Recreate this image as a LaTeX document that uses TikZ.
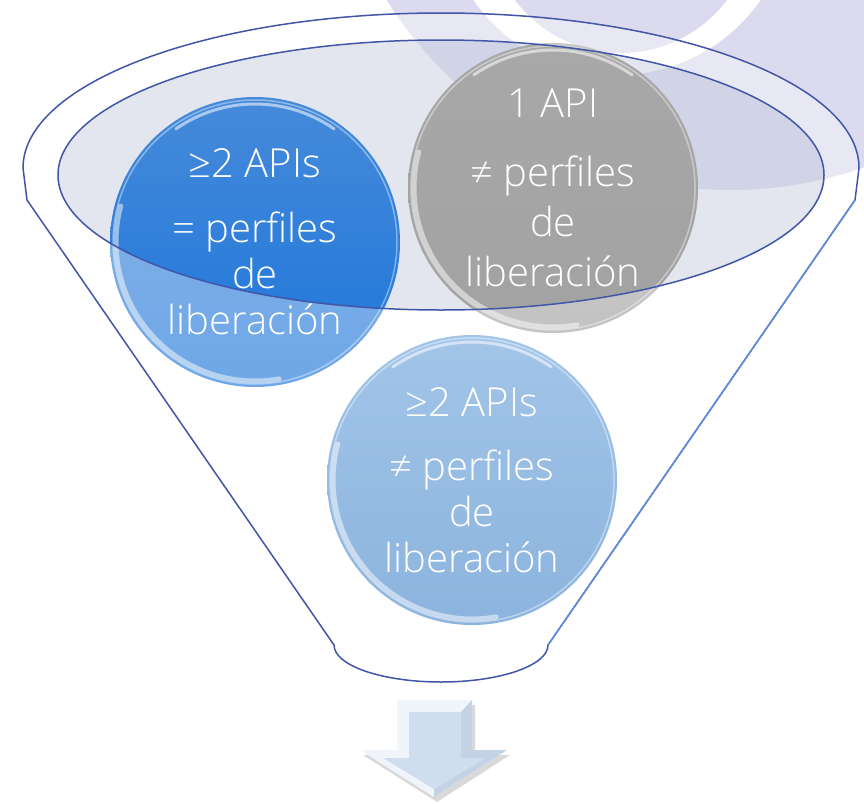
\documentclass[tikz,border=0pt]{standalone}
\usepackage{fontspec}
\setmainfont{Open Sans Light}
\definecolor{lav}{RGB}{220,218,238}
\definecolor{rimblue}{RGB}{66,86,168}
\definecolor{rimlight}{RGB}{96,142,220}
\definecolor{glass}{RGB}{200,206,223}
\definecolor{bluetop}{RGB}{70,138,218}
\definecolor{bluebot}{RGB}{28,118,218}
\definecolor{graytop}{RGB}{168,168,168}
\definecolor{graybot}{RGB}{162,162,162}
\definecolor{skytop}{RGB}{110,165,220}
\definecolor{skybot}{RGB}{76,138,204}
\definecolor{arrowface}{RGB}{208,221,238}
\definecolor{arrowedge}{RGB}{240,245,252}
\definecolor{arrowdark}{RGB}{196,210,230}

% bevel and gloss on a round bubble
\newcommand\glint[1]{%
  \draw[white, opacity=.4, line width=1.5pt] (#1.center) circle[radius=142];
  \draw[white, opacity=.5, line width=5pt, line cap=round]
    ([shift={(80:139)}]#1.center) arc[start angle=80, end angle=195, radius=139];
  \draw[white, opacity=.55, line width=3pt, line cap=round]
    ([shift={(235:138)}]#1.center) arc[start angle=235, end angle=305, radius=138];
}

% outline of the funnel: rim on top, cone below
\def\funnelpath{(27,200) -- (23,168)
  arc[start angle=180, end angle=360, x radius=418, y radius=155]
  -- (855,200) -- (548,645)
  arc[start angle=0, end angle=180, x radius=107, y radius=37] -- cycle}

\begin{document}
\begin{tikzpicture}[x=1pt, y=-1pt,
  bubble/.style={circle, minimum size=290pt, inner sep=0pt, text=white,
    align=center, font=\fontsize{40}{46}\selectfont},
  rimline/.style={rimblue, line width=1.5pt}]

\useasboundingbox (0,0) rectangle (864,803);
\clip (0,0) rectangle (864,803);

% background: lavender disc with a white ring
\fill[white] (0,0) rectangle (864,803);
\fill[lav] (730,-215) circle[radius=405];
\fill[white, even odd rule] (617,-100) circle[radius=175] (621,-80) circle[radius=133];

% opening of the funnel
\fill[glass, opacity=.5] (441,175) ellipse[x radius=383, y radius=135];

% bubbles
\node[bubble, top color=bluetop, bottom color=bluebot] (b1) at (255,242)
  {≥2 APIs\\[19pt]= perfiles\\de\\liberación};
\glint{b1}
\node[bubble, top color=graytop, bottom color=graybot,
  font=\fontsize{40}{50}\selectfont] (b2) at (553,188)
  {1 API\\[19pt]≠ perfiles\\de\\liberación};
\glint{b2}
\node[bubble, top color=skytop, bottom color=skybot] (b3) at (472,480)
  {≥2 APIs\\[18pt]≠ perfiles\\de\\liberación};
\glint{b3}

% glassy body of the funnel
\fill[white, fill opacity=.36, even odd rule] \funnelpath
  (441,175) ellipse[x radius=383, y radius=135];

% outlines
\draw[rimline] \funnelpath;
\draw[rimlight, line width=1.5pt] (855,200) -- (548,645);
\draw[rimline] (441,175) ellipse[x radius=383, y radius=135];

% down arrow with bevelled faces
\fill[black, opacity=.15] (400,705) -- (475,705) -- (475,755) -- (510,755)
  -- (437,802) -- (363,755) -- (400,755) -- cycle;
\fill[arrowedge] (397,700) -- (472,700) -- (472,750) -- (507,750)
  -- (434,797) -- (360,750) -- (397,750) -- cycle;
\fill[arrowdark] (472,700) -- (461,712) -- (461,758) -- (485,758) -- (434,789)
  -- (434,797) -- (507,750) -- (472,750) -- cycle;
\fill[arrowface] (409,712) -- (461,712) -- (461,758) -- (485,758)
  -- (434,789) -- (383,758) -- (409,758) -- cycle;
\end{tikzpicture}
\end{document}
